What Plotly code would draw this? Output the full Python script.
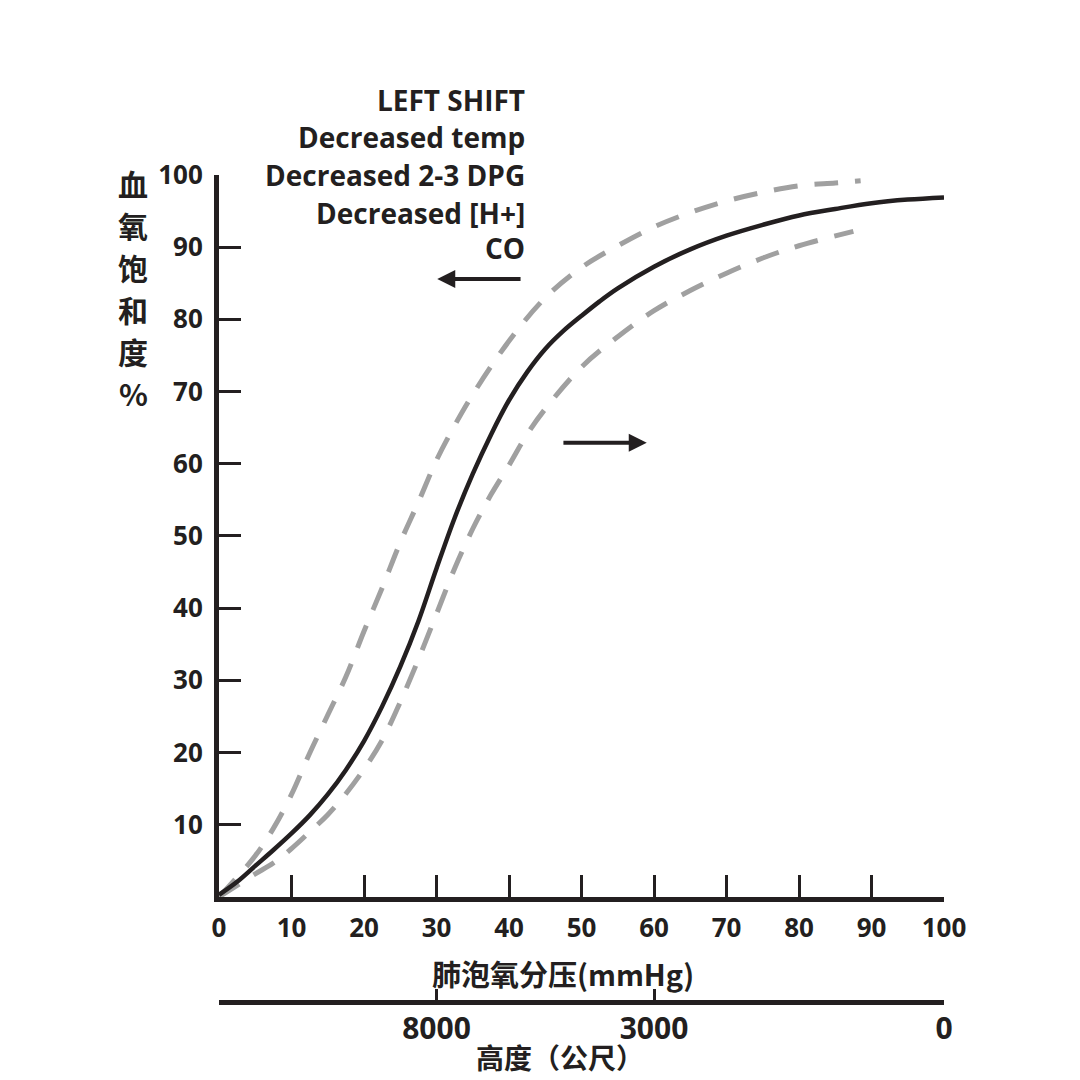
import plotly.graph_objects as go

# normal curve (solid)
normal_x = [0, 2.5, 5, 7.5, 10, 12.5, 15, 17.5, 20, 22.5, 25, 27.5, 30, 32.5, 35, 37.5, 40, 42.5, 45, 47.5,
            50, 52.5, 55, 60, 65, 70, 75, 80, 85, 90, 95, 100]
normal_y = [0.3, 2.1, 4.3, 6.5, 8.8, 11.3, 14.2, 17.6, 21.6, 26.4, 31.9, 38.2, 45.5, 52.5, 58.6, 64.0, 68.8, 72.7, 75.9, 78.4,
            80.5, 82.5, 84.3, 87.3, 89.7, 91.6, 93.1, 94.4, 95.3, 96.1, 96.6, 96.9]

# left shift (dashed, upper)
left_x = [0, 2, 5, 7.5, 10, 12.5, 15, 17.5, 20, 22.5, 25, 27.5, 30, 32.5, 35, 40, 45, 50, 55, 60, 65, 70, 75, 80, 85, 88.5]
left_y = [0, 2.2, 5.7, 9.5, 14.2, 19.9, 25.2, 30.5, 36.8, 42.8, 49.1, 54.7, 60.5, 65.3, 69.6, 77, 83, 87.2, 90.2, 92.8,
          94.8, 96.4, 97.6, 98.5, 98.9, 99.2]

# right shift (dashed, lower)
right_x = [0, 2.5, 5, 7.5, 10, 12.5, 15, 17.5, 20, 22.5, 25, 27.5, 30, 32.5, 35, 37.5, 40, 42.5, 45, 50, 55, 60, 65, 70,
           75, 80, 87.5]
right_y = [0, 1.6, 3.2, 4.7, 6.7, 9.0, 11.4, 14.3, 17.7, 21.7, 27, 32.9, 39.2, 45.5, 51, 55.7, 59.8, 64.1, 67.6, 73.4,
           77.6, 81.2, 84, 86.4, 88.5, 90.2, 92.2]

x_ticks = [0, 10, 20, 30, 40, 50, 60, 70, 80, 90, 100]
y_ticks = [10, 20, 30, 40, 50, 60, 70, 80, 90, 100]

# altitude scale mapped onto mmHg positions
alt_pos = [30, 60, 100]
alt_labels = ['8000', '3000', '0']

shift_lines = ['LEFT SHIFT', 'Decreased temp', 'Decreased 2-3 DPG', 'Decreased [H+]', 'CO']
shift_line_y = [1.0907, 1.0459, 1.0, 0.9541, 0.9117]

y_title_chars = list('血氧饱和度%')
y_title_pos = [0.9903, 0.9395, 0.8888, 0.8380, 0.7872, 0.7364]

INK = '#231f20'
GRAY = '#a0a0a0'
FONT = '"Open Sans", "Noto Sans CJK SC", sans-serif'
CJK = '"Noto Sans CJK SC", "Open Sans", sans-serif'

fig = go.Figure()

fig.add_trace(go.Scatter(
    x=left_x, y=left_y, mode='lines', line_shape='spline',
    line=dict(color=GRAY, width=5, dash='24px,17px'),
    hoverinfo='skip', showlegend=False,
))
fig.add_trace(go.Scatter(
    x=right_x, y=right_y, mode='lines', line_shape='spline',
    line=dict(color=GRAY, width=5, dash='24px,17px'),
    hoverinfo='skip', showlegend=False,
))
fig.add_trace(go.Scatter(
    x=normal_x, y=normal_y, mode='lines', line_shape='spline',
    line=dict(color=INK, width=4.5),
    hoverinfo='skip', showlegend=False,
))
# invisible trace so the altitude axis is drawn
fig.add_trace(go.Scatter(
    x=alt_pos, y=[0] * len(alt_pos), xaxis='x2', mode='markers',
    marker=dict(opacity=0), hoverinfo='skip', showlegend=False,
))

for txt, yy in zip(shift_lines, shift_line_y):
    fig.add_annotation(x=0.4248, y=yy, xref='paper', yref='paper', text=txt, showarrow=False,
                       xanchor='right', yanchor='middle',
                       font=dict(family=FONT, size=28, color=INK, weight='bold'))

# shift arrows
fig.add_annotation(x=30.1, y=85.6, ax=41.8, ay=85.6, axref='x', ayref='y',
                   text='', showarrow=True, arrowhead=2, arrowsize=0.9,
                   arrowwidth=4, arrowcolor=INK)
fig.add_annotation(x=59.0, y=62.9, ax=47.3, ay=62.9, axref='x', ayref='y',
                   text='', showarrow=True, arrowhead=2, arrowsize=0.9,
                   arrowwidth=4, arrowcolor=INK)

# vertical y title, one character per line
for ch, yy in zip(y_title_chars, y_title_pos):
    fig.add_annotation(x=-0.1186, y=yy, xref='paper', yref='paper',
                       text=ch, showarrow=False,
                       xanchor='center', yanchor='middle',
                       font=dict(family=CJK, size=30, color=INK, weight='bold'))

fig.add_annotation(x=0.4745, y=0.0351, xref='paper', yref='paper',
                   text='肺泡氧分压(mmHg)', showarrow=False,
                   xanchor='center', yanchor='middle',
                   font=dict(family=CJK, size=29, color=INK, weight='bold'))
fig.add_annotation(x=0.4703, y=-0.0665, xref='paper', yref='paper',
                   text='高度（公尺）', showarrow=False,
                   xanchor='center', yanchor='middle',
                   font=dict(family=CJK, size=28, color=INK, weight='bold'))

# page body adds 8px around the figure
fig.update_layout(
    width=1064, height=1072,
    paper_bgcolor='white', plot_bgcolor='white',
    margin=dict(l=211, r=128, t=167, b=78),
    xaxis=dict(range=[0, 100], tickvals=x_ticks, showgrid=False, zeroline=False,
               showline=True, linecolor=INK, linewidth=5,
               ticks='inside', ticklen=22, tickwidth=3, tickcolor=INK,
               ticklabelstandoff=4,
               tickfont=dict(family=FONT, size=26, color=INK, weight='bold'),
               anchor='y'),
    yaxis=dict(range=[0, 100], tickvals=y_ticks, showgrid=False, zeroline=False,
               domain=[0.127, 1],
               showline=True, linecolor=INK, linewidth=5,
               ticks='inside', ticklen=22, tickwidth=3, tickcolor=INK,
               ticklabelstandoff=6,
               tickfont=dict(family=FONT, size=26, color=INK, weight='bold')),
    xaxis2=dict(range=[0, 100], overlaying='x', anchor='free', position=0,
                side='bottom', tickvals=alt_pos, ticktext=alt_labels,
                showgrid=False, zeroline=False,
                showline=True, linecolor=INK, linewidth=5,
                ticks='inside', ticklen=11, tickwidth=3, tickcolor=INK,
                ticklabelstandoff=-2,
                tickfont=dict(family=FONT, size=30, color=INK, weight='bold')),
)

fig.write_html('out.html')
